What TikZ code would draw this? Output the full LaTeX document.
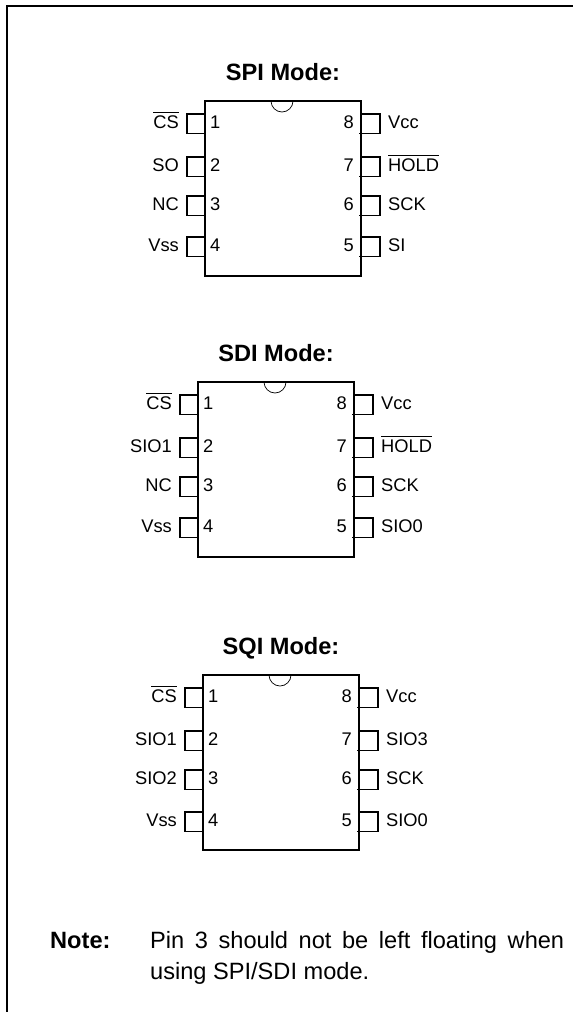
\documentclass[tikz,border=0pt]{standalone}
\usepackage{fontspec}
\setmainfont{Liberation Sans}
\newcommand\ovl[1]{\setbox0\hbox{#1}\rlap{\rule[15.3pt]{\wd0}{1.2pt}}\box0}
\newcommand\lpin[4]{% chip, number, top y, label
  \coordinate (#1-l#2a) at (-18,#3);
  \coordinate (#1-l#2b) at (-18,#3+19.5);
  \draw[pinline] (#1.west |- #1-l#2a) -- (#1-l#2a) -- (#1-l#2b) -- (#1.west |- #1-l#2b);
  \node[pinlabel,anchor=base east] (#1-ln#2) at (-26,#3+14.5) {#4};
  \node[pinlabel,anchor=base west] (#1-num#2) at (5,#3+14.5) {#2};
}
\newcommand\rpin[4]{%
  \coordinate (#1-r#2a) at (175,#3);
  \coordinate (#1-r#2b) at (175,#3+19.5);
  \draw[pinline] (#1.east |- #1-r#2a) -- (#1-r#2a) -- (#1-r#2b) -- ([xshift=-2pt]#1.east |- #1-r#2b);
  \node[pinlabel,anchor=base west] (#1-ln#2) at (183,#3+14.5) {#4};
  \node[pinlabel,anchor=base east] (#1-num#2) at (149,#3+14.5) {#2};
}
\newcommand\chipbody[2]{% name, title
  \node[chip,anchor=north west] (#1) at (0,0) {};
  \draw[notch] (66,0) arc[start angle=180,end angle=360,x radius=11pt,y radius=11pt];
  \node[modetitle,anchor=base] (#1-title) at (78,-21) {#2};
}
\begin{document}
\begin{tikzpicture}[x=1pt,y=-1pt,
  chip/.style={draw,line width=1.4pt,minimum width=156pt,minimum height=175pt,inner sep=0pt,outer sep=0pt},
  pinline/.style={line width=1.2pt},
  notch/.style={line width=0.7pt},
  pinlabel/.style={font=\fontsize{18.3}{22}\selectfont,inner sep=0pt},
  modetitle/.style={font=\fontsize{23.6}{28}\selectfont\bfseries,inner sep=0pt},
  frameline/.style={line width=2pt},
  notetext/.style={font=\fontsize{23.6}{28}\selectfont,inner sep=0pt}]
\useasboundingbox (0,0) rectangle (573,1012);
\coordinate (frameA) at (6.5,1012);
\coordinate (frameB) at (6.5,5.5);
\coordinate (frameC) at (573,5.5);
\draw[frameline] (frameA) -- (frameB) -- (frameC);
\begin{scope}[shift={(205,101)}]
  \chipbody{spi}{SPI Mode:}
  \lpin{spi}{1}{13}{\ovl{CS}}
  \lpin{spi}{2}{56}{SO}
  \lpin{spi}{3}{95}{NC}
  \lpin{spi}{4}{136}{Vss}
  \rpin{spi}{8}{13}{Vcc}
  \rpin{spi}{7}{56}{\ovl{HOLD}}
  \rpin{spi}{6}{95}{SCK}
  \rpin{spi}{5}{136}{SI}
\end{scope}
\begin{scope}[shift={(198,382)}]
  \chipbody{sdi}{SDI Mode:}
  \lpin{sdi}{1}{13}{\ovl{CS}}
  \lpin{sdi}{2}{56}{SIO1}
  \lpin{sdi}{3}{95}{NC}
  \lpin{sdi}{4}{136}{Vss}
  \rpin{sdi}{8}{13}{Vcc}
  \rpin{sdi}{7}{56}{\ovl{HOLD}}
  \rpin{sdi}{6}{95}{SCK}
  \rpin{sdi}{5}{136}{SIO0}
\end{scope}
\begin{scope}[shift={(203,675)}]
  \chipbody{sqi}{SQI Mode:}
  \lpin{sqi}{1}{13}{\ovl{CS}}
  \lpin{sqi}{2}{56}{SIO1}
  \lpin{sqi}{3}{95}{SIO2}
  \lpin{sqi}{4}{137}{Vss}
  \rpin{sqi}{8}{13}{Vcc}
  \rpin{sqi}{7}{56}{SIO3}
  \rpin{sqi}{6}{95}{SCK}
  \rpin{sqi}{5}{137}{SIO0}
\end{scope}
\node[notetext,anchor=base west,font=\fontsize{23.6}{28}\selectfont\bfseries] (notelabel) at (50,948.3) {Note:};
\node[notetext,anchor=base west] (noteone) at (150,948.3) {\makebox[414pt][s]{Pin 3 should not be left floating when}};
\node[notetext,anchor=base west] (notetwo) at (150,979) {using SPI/SDI mode.};
\end{tikzpicture}
\end{document}
